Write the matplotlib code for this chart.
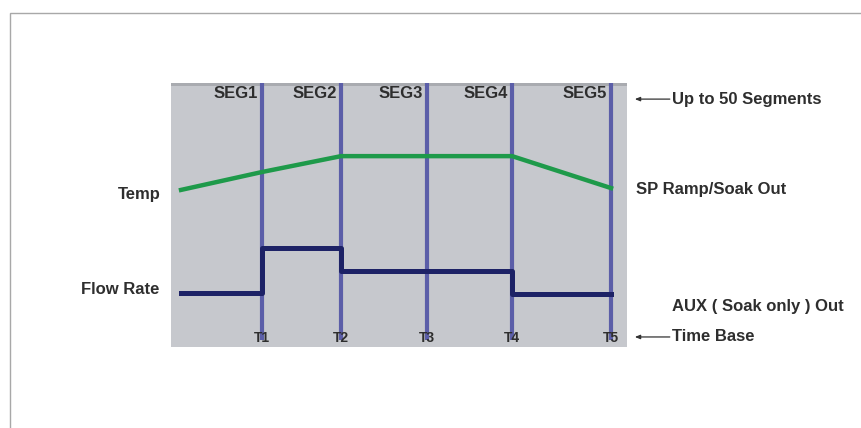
import matplotlib
matplotlib.use("Agg")
import matplotlib.pyplot as plt
from matplotlib.patches import Rectangle

# time axis (arbitrary units, 0..100 across the panel)
t_start = 2.2
t_marks = [20.0, 37.3, 56.1, 74.8, 96.5]
t_labels = ["T1", "T2", "T3", "T4", "T5"]
seg_labels = ["SEG1", "SEG2", "SEG3", "SEG4", "SEG5"]

# setpoint profile (value at start and at each T mark)
temp = [59.5, 66.3, 72.3, 72.3, 72.3, 60.2]
# flow rate held per segment (step output)
flow = [20.5, 37.5, 28.8, 28.8, 20.1, 20.1]

panel_col = "#c6c8cd"
line_col = "#5b5ea8"
temp_col = "#1e9a4a"
flow_col = "#1d2266"
txt_col = "#2e2e2e"

plt.rcParams["font.family"] = ["Liberation Sans", "DejaVu Sans"]
plt.rcParams["font.weight"] = "bold"

fig = plt.figure(figsize=(8.61, 4.28), dpi=100)
fig.patch.set_facecolor("white")

# outer frame (top + left edges of the page box)
fig.add_artist(Rectangle((10 / 861, -0.1), 1.2, (1 - 13 / 428) + 0.1,
                         transform=fig.transFigure, fill=False,
                         edgecolor="#a8a8a8", linewidth=1.0))

ax = fig.add_axes([171 / 861, (428 - 347) / 428, 456 / 861, 264 / 428])
ax.set_xlim(0, 100)
ax.set_ylim(0, 100)
ax.set_facecolor(panel_col)
ax.axhspan(99, 100, color="#a9abb0", lw=0)
for s in ax.spines.values():
    s.set_visible(False)
ax.set_xticks([])
ax.set_yticks([])

# segment boundaries
for t in t_marks:
    ax.plot([t, t], [2.5, 100], color=line_col, lw=3, solid_capstyle="butt", zorder=2)

tx = [t_start] + t_marks
ax.plot(tx, temp, color=temp_col, lw=3.2, zorder=3)
ax.plot(tx, flow, color=flow_col, lw=3.6, drawstyle="steps-post", zorder=3)

for t, s in zip(t_marks, seg_labels):
    ax.text(t - 0.9, 96, s, ha="right", va="center", fontsize=12, color=txt_col)
for t, s in zip(t_marks, t_labels):
    ax.text(t, 3.4, s, ha="center", va="center", fontsize=10, color=txt_col,
            zorder=4)

# left labels
ax.text(-2.2, temp[0] - 1.8, "Temp", ha="right", va="center", fontsize=12,
        color=txt_col, clip_on=False)
ax.text(-2.6, flow[0] + 1.2, "Flow Rate", ha="right", va="center", fontsize=12,
        color=txt_col, clip_on=False)

# right labels
arrow = dict(arrowstyle="-|>,head_length=0.3,head_width=0.12", color="#333333", lw=0.9)
ax.annotate("", xy=(101.1, 93.9), xytext=(110.0, 93.9), arrowprops=arrow,
            annotation_clip=False)
ax.text(109.9, 93.9, "Up to 50 Segments", ha="left", va="center", fontsize=12,
        color=txt_col, clip_on=False)
ax.text(102.0, 59.8, "SP Ramp/Soak Out", ha="left", va="center", fontsize=12,
        color=txt_col, clip_on=False)
ax.text(109.9, 15.2, "AUX ( Soak only ) Out", ha="left", va="center", fontsize=12,
        color=txt_col, clip_on=False)
ax.annotate("", xy=(101.1, 3.8), xytext=(110.0, 3.8), arrowprops=arrow,
            annotation_clip=False)
ax.text(109.9, 3.8, "Time Base", ha="left", va="center", fontsize=12,
        color=txt_col, clip_on=False)

fig.savefig("out.png", dpi=100, facecolor="white")
